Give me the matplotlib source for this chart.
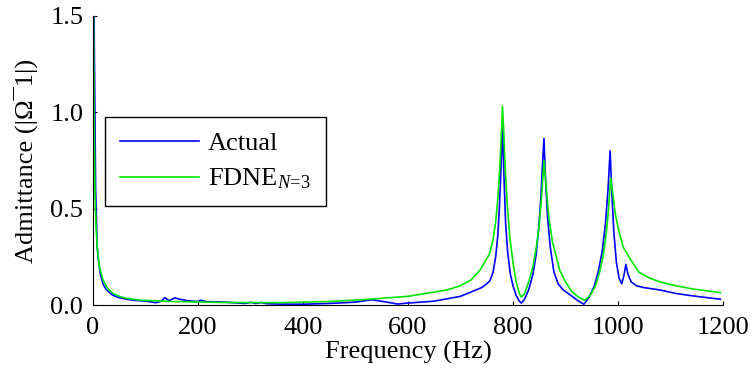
import matplotlib
matplotlib.use("Agg")
import matplotlib.pyplot as plt

# Frequency samples (Hz) and admittance magnitudes
freq_actual = [2, 5, 8, 10, 14, 19, 25, 38, 50, 63, 80, 100, 120, 130, 137, 145, 156, 165,
               180, 200, 205, 215, 250, 290, 300, 310, 320, 330, 350, 400, 450, 500, 531,
               560, 580, 600, 650, 700, 740, 750, 756, 762, 767, 771, 774, 777, 780, 783,
               786, 790, 795, 800, 806, 812, 816, 822, 830, 838, 844, 849, 853, 856, 859,
               862, 866, 871, 878, 886, 895, 905, 915, 925, 935, 945, 955, 963, 970, 976,
               981, 985, 988, 992, 997, 1002, 1007, 1011, 1015, 1019, 1025, 1035, 1050,
               1080, 1110, 1143, 1195]
actual = [1.5, 0.6, 0.30, 0.24, 0.16, 0.11, 0.08, 0.05, 0.038, 0.03, 0.024, 0.02, 0.012,
          0.02, 0.038, 0.022, 0.037, 0.03, 0.022, 0.018, 0.025, 0.018, 0.015, 0.008, 0.014,
          0.008, 0.013, 0.007, 0.005, 0.004, 0.008, 0.015, 0.027, 0.015, 0.005, 0.01,
          0.02, 0.045, 0.09, 0.11, 0.126, 0.17, 0.25, 0.36, 0.50, 0.70, 0.93, 0.65,
          0.42, 0.27, 0.16, 0.10, 0.05, 0.02, 0.01, 0.03, 0.08, 0.16, 0.26, 0.40, 0.55,
          0.72, 0.865, 0.65, 0.45, 0.30, 0.17, 0.11, 0.08, 0.06, 0.04, 0.02, 0.004, 0.04,
          0.10, 0.18, 0.28, 0.42, 0.60, 0.80, 0.60, 0.38, 0.22, 0.14, 0.11, 0.15, 0.21,
          0.16, 0.12, 0.10, 0.09, 0.078, 0.06, 0.047, 0.03]

freq_fdne = [1, 2, 4, 6, 8, 12, 19, 28, 38, 50, 63, 90, 150, 250, 356, 450, 527, 600,
             674, 700, 720, 737, 750, 756, 762, 767, 771, 775, 778, 780, 782, 785, 789,
             794, 800, 806, 812, 816, 822, 830, 838, 845, 850, 855, 859, 863, 868, 875,
             889, 900, 912, 925, 937, 947, 957, 965, 972, 978, 982, 986, 990, 995, 1002,
             1010, 1023, 1040, 1060, 1080, 1110, 1143, 1195]
fdne = [1.5, 1.0, 0.55, 0.40, 0.30, 0.20, 0.13, 0.085, 0.06, 0.045, 0.035, 0.025, 0.018,
        0.013, 0.012, 0.018, 0.03, 0.045, 0.078, 0.10, 0.13, 0.18, 0.24, 0.27, 0.34,
        0.43, 0.55, 0.72, 0.90, 1.03, 0.92, 0.72, 0.52, 0.35, 0.22, 0.12, 0.06, 0.04,
        0.06, 0.12, 0.20, 0.31, 0.42, 0.58, 0.75, 0.62, 0.46, 0.33, 0.18, 0.12, 0.07,
        0.04, 0.024, 0.05, 0.10, 0.17, 0.26, 0.38, 0.50, 0.66, 0.58, 0.47, 0.38, 0.30,
        0.24, 0.17, 0.14, 0.12, 0.10, 0.083, 0.064]

x_ticks = [0, 200, 400, 600, 800, 1000, 1200]
y_ticks = [0.0, 0.5, 1.0, 1.5]
y_ticklabels = ["0.0", "0.5", "1.0", "1.5"]

plt.rcParams['font.family'] = ['Liberation Serif', 'DejaVu Serif']
plt.rcParams['mathtext.fontset'] = 'custom'
plt.rcParams['mathtext.it'] = 'Liberation Serif:italic'
plt.rcParams['mathtext.rm'] = 'Liberation Serif'

FS = 19

fig = plt.figure(figsize=(7.53, 3.80), dpi=100)
ax = fig.add_axes([93 / 753, 1 - 305 / 380, (723 - 93) / 753, (305 - 16) / 380])

ax.plot(freq_actual, actual, color=(0, 0, 1), lw=1.2, label='Actual')
ax.plot(freq_fdne, fdne, color=(0, 0.9, 0), lw=1.2, label=r'FDNE$_{N\!=\!3}$')

ax.set_xlim(0, 1200)
ax.set_ylim(0, 1.5)
ax.set_xticks(x_ticks)
ax.set_yticks(y_ticks)
ax.set_yticklabels(y_ticklabels)
ax.spines['top'].set_visible(False)
ax.spines['right'].set_visible(False)
ax.tick_params(direction='in', length=3, labelsize=FS)
ax.tick_params(axis='x', pad=9)
ax.tick_params(axis='y', pad=7)
ax.set_xlabel('Frequency (Hz)', fontsize=FS, labelpad=1)
ax.set_ylabel('Admittance (|Ω¯1|)', fontsize=FS, labelpad=9)

leg = ax.legend(loc='upper left', bbox_to_anchor=(12 / 630, (305 - 117) / 289),
                fontsize=FS, frameon=True, fancybox=False, edgecolor='black',
                framealpha=1, handlelength=3.0, handletextpad=0.35, borderpad=0.55,
                labelspacing=0.45, borderaxespad=0)
leg.get_frame().set_linewidth(1.0)

fig.savefig('out.png', dpi=100)
